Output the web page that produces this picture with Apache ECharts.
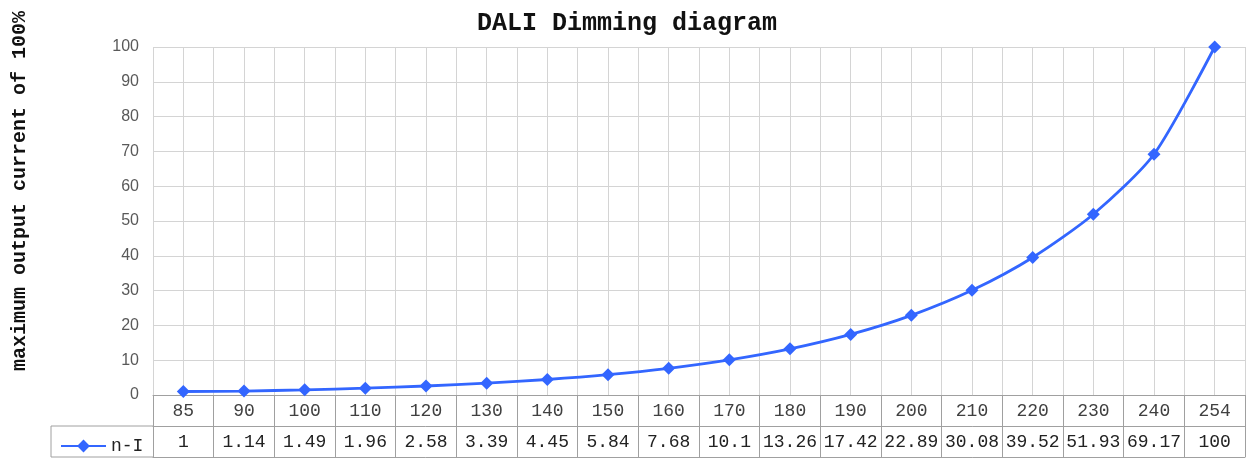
<!DOCTYPE html>
<html>
<head>
<meta charset="utf-8">
<script src="https://cdn.jsdelivr.net/npm/echarts@6/dist/echarts.min.js"></script>
<style>
html, body { margin: 0; padding: 0; background: #fff; }
#chart { width: 1254px; height: 460px; }
</style>
</head>
<body>
<div id="chart"></div>
<script>
// dimming level (table header row) and output current in % (table value row)
const levels = ['85', '90', '100', '110', '120', '130', '140', '150', '160', '170', '180', '190', '200', '210', '220', '230', '240', '254']
const current = [1, 1.14, 1.49, 1.96, 2.58, 3.39, 4.45, 5.84, 7.68, 10.1, 13.26, 17.42, 22.89, 30.08, 39.52, 51.93, 69.17, 100]
const yTicks = { min: 0, max: 100, step: 10 }

const tableColor = '#a0a0a0'
const gridColor = '#d4d4d4'
const mono = 'Liberation Mono'

const chart = echarts.init(document.getElementById('chart'))
const option = {
    animation: false,
    title: {
        text: 'DALI Dimming diagram',
        left: 622,
        textAlign: 'center',
        top: 6,
        textStyle: { fontFamily: mono, fontWeight: 'bold', fontSize: 25, color: '#111' },
    },
    legend: {
        left: 55,
        top: 432,
        itemWidth: 45,
        itemHeight: 16,
        itemGap: 4,
        textStyle: { fontFamily: mono, fontSize: 18, color: '#222' },
        data: ['n-I'],
    },
    grid: { left: 153, right: 9, top: 47, bottom: 65, containLabel: false },
    xAxis: [
        {
            type: 'category',
            data: levels,
            boundaryGap: true,
            axisLine: { lineStyle: { color: tableColor } },
            axisTick: { show: true, length: 62, interval: 0, lineStyle: { color: tableColor } },
            axisLabel: { interval: 0, margin: 7, fontFamily: mono, fontSize: 18, color: '#404040' },
            splitLine: { show: false },
        },
        {
            // half-cell vertical grid
            type: 'value',
            min: 0,
            max: levels.length * 2,
            interval: 1,
            show: true,
            axisLine: { show: false },
            axisTick: { show: false },
            axisLabel: { show: false },
            splitLine: { show: true, lineStyle: { color: gridColor } },
        },
        {
            // value row of the data table
            type: 'category',
            data: current.map(String),
            position: 'bottom',
            offset: 31,
            axisLine: { lineStyle: { color: tableColor } },
            axisTick: { show: false },
            axisLabel: { interval: 0, margin: 7, fontFamily: mono, fontSize: 18, color: '#222' },
        },
        {
            // bottom border of the table
            type: 'category',
            data: levels,
            position: 'bottom',
            offset: 62,
            axisLine: { lineStyle: { color: tableColor } },
            axisTick: { show: false },
            axisLabel: { show: false },
        },
    ],
    yAxis: {
        type: 'value',
        min: yTicks.min,
        max: yTicks.max,
        interval: yTicks.step,
        axisLine: { show: false },
        axisTick: { show: false },
        axisLabel: { margin: 14, fontFamily: 'Liberation Sans', fontSize: 16, color: '#595959' },
        splitLine: { lineStyle: { color: gridColor } },
    },
    graphic: [
        {
            type: 'text',
            x: 20,
            y: 191,
            rotation: Math.PI / 2,
            style: {
                text: 'maximum output current of 100%',
                fontFamily: mono,
                fontWeight: 'bold',
                fontSize: 20,
                fill: '#111',
                align: 'center',
                verticalAlign: 'middle',
            },
        },
        // legend cell of the table
        { type: 'line', shape: { x1: 51, y1: 426, x2: 153, y2: 426 }, style: { stroke: tableColor } },
        { type: 'line', shape: { x1: 51, y1: 457, x2: 153, y2: 457 }, style: { stroke: tableColor } },
        { type: 'line', shape: { x1: 51, y1: 426, x2: 51, y2: 457 }, style: { stroke: tableColor } },
    ],
    series: [
        {
            name: 'n-I',
            type: 'line',
            xAxisIndex: 0,
            data: current,
            smooth: 0.25,
            symbol: 'diamond',
            symbolSize: 13,
            color: '#3366ff',
            lineStyle: { width: 2.8 },
        },
    ],
}
chart.setOption(option)
</script>
</body>
</html>
